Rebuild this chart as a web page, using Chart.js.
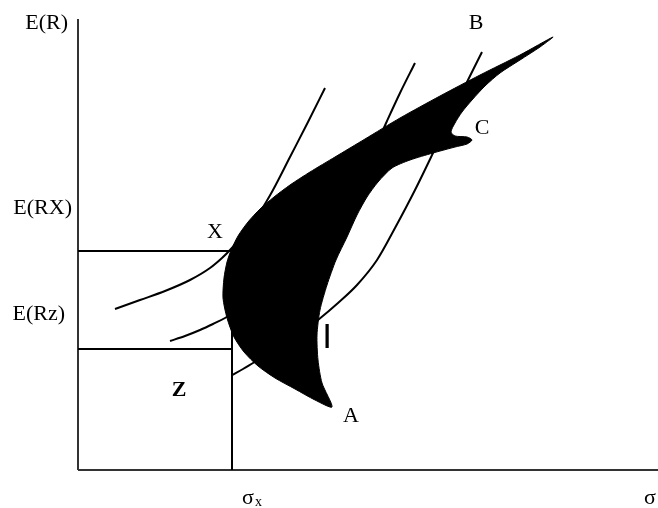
<!DOCTYPE html>
<html>
<head>
<meta charset="utf-8">
<script src="https://cdn.jsdelivr.net/npm/chart.js@4/dist/chart.umd.min.js"></script>
<style>
  body { margin: 0; background: #fff; }
  #wrap { width: 658px; height: 508px; }
</style>
</head>
<body>
<div id="wrap"><canvas id="myChart" width="658" height="508"></canvas></div>
<script>
// opportunity set (closed outline, sigma / E(R) in plot units)
const frontierSigma = [153, 160, 170, 182, 196, 212, 232, 257, 287, 322, 362, 402, 442, 475,
  462, 442, 422, 407, 394, 384, 377, 373, 377, 389, 394, 389, 377, 355, 332, 314, 300, 289, 279,
  269, 258, 249, 242, 239, 240, 244, 254,
  237, 217, 197, 180, 166, 156, 149, 145, 146, 149, 153];
const frontierReturn = [220, 234, 248, 261, 273, 285, 298, 313, 331, 352, 374, 395, 415, 433,
  423, 410, 397, 384, 370, 358, 347, 338, 334, 333, 330, 326, 323, 317, 310, 302, 288, 273, 255,
  233, 210, 185, 160, 135, 110, 87, 63,
  70, 81, 92, 104, 118, 133, 152, 172, 192, 208, 220];

// indifference curves
const curve1Sigma = [37, 62, 87, 112, 132, 144, 152, 167, 182, 195, 212, 230, 247];
const curve1Return = [161, 170, 179, 190, 202, 212, 220, 238, 258, 280, 313, 348, 382];
const curve2Sigma = [92, 107, 122, 135, 147, 182, 222, 262, 287, 309, 322, 337];
const curve2Return = [129, 134, 140, 146, 152, 175, 210, 255, 300, 349, 377, 407];
const curve3Sigma = [154, 165, 175, 192, 212, 227, 240, 260, 279, 299, 317, 337, 355, 372, 390, 404];
const curve3Return = [95, 101, 107, 117, 130, 140, 150, 167, 185, 210, 242, 280, 317, 353, 390, 418];

// reference levels
const sigmaX = 154;
const returnX = 219;
const returnZ = 121;
const sigmaMax = 580;
const returnMax = 451;

// labels
const labelText = ['E(R)', 'E(RX)', 'E(Rz)', 'X', 'Z', 'A', 'B', 'C', 'σ', 'σ', 'I'];
const labelSigma = [-10, -6, -13, 137, 101, 273, 398, 404, 170, 572, 249];
const labelReturn = [447, 262, 156, 238, 80, 54, 447, 342, -28, -28, 132];

const pts = (xs, ys) => xs.map((x, i) => ({ x, y: ys[i] }));

const lineSet = (data, extra) => ({
  data,
  borderColor: '#000',
  borderWidth: 2,
  pointRadius: 0,
  fill: false,
  cubicInterpolationMode: 'monotone',
  clip: false,
  order: 1,
  ...extra,
});

const labelsPlugin = {
  id: 'labels',
  afterDraw(chart) {
    const { ctx, scales: { x, y } } = chart;
    ctx.save();
    ctx.fillStyle = '#000';
    ctx.textBaseline = 'middle';
    labelText.forEach((t, i) => {
      const px = x.getPixelForValue(labelSigma[i]);
      const py = y.getPixelForValue(labelReturn[i]);
      if (t === 'I') {
        ctx.font = '35px "Liberation Sans", Arial, sans-serif';
      } else if (t === 'Z') {
        ctx.font = 'bold 22px "Liberation Serif", "Times New Roman", serif';
      } else {
        ctx.font = '22px "Liberation Serif", "Times New Roman", serif';
      }
      ctx.textAlign = t.startsWith('E(') ? 'right' : 'center';
      ctx.fillText(t, px, py);
      if (t === 'σ' && i === 8) {
        ctx.font = '14px "Liberation Serif", "Times New Roman", serif';
        ctx.textAlign = 'left';
        ctx.fillText('x', px + 7, py + 4);
      }
    });
    ctx.restore();
  },
};

new Chart(document.getElementById('myChart').getContext('2d'), {
  type: 'line',
  data: {
    datasets: [
      {
        data: pts(frontierSigma, frontierReturn),
        borderColor: '#000',
        backgroundColor: '#000',
        borderWidth: 1,
        pointRadius: 0,
        fill: 'shape',
        tension: 0.25,
        order: 0,
      },
      lineSet(pts(curve1Sigma, curve1Return)),
      lineSet(pts(curve2Sigma, curve2Return)),
      lineSet(pts(curve3Sigma, curve3Return)),
      lineSet(pts([0, sigmaX], [returnX, returnX])),
      lineSet(pts([0, sigmaX], [returnZ, returnZ])),
      lineSet(pts([sigmaX, sigmaX], [returnX, 0]), { cubicInterpolationMode: 'default' }),
      lineSet(pts([0, 0], [returnMax, 0]), { borderColor: '#333', cubicInterpolationMode: 'default' }),
      lineSet(pts([0, sigmaMax], [0, 0]), { borderColor: '#333' }),
    ],
  },
  options: {
    responsive: false,
    animation: false,
    layout: { padding: { left: 78, top: 19, right: 0, bottom: 38 } },
    scales: {
      x: { type: 'linear', min: 0, max: sigmaMax, display: false },
      y: { type: 'linear', min: 0, max: returnMax, display: false },
    },
    plugins: {
      legend: { display: false },
      tooltip: { enabled: false },
    },
  },
  plugins: [labelsPlugin],
});
</script>
</body>
</html>
